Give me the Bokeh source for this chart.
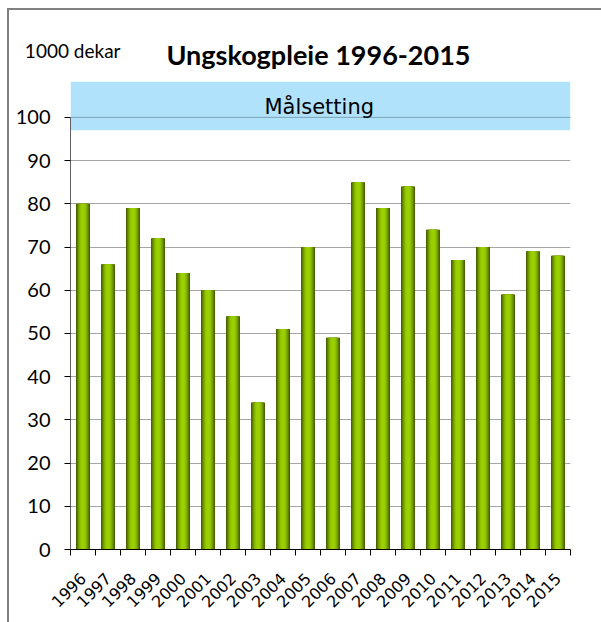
import math
from bokeh.plotting import figure
from bokeh.layouts import column
from bokeh.models import Range1d, FixedTicker, BoxAnnotation, Span, Label
from bokeh.embed import file_html
from bokeh.resources import INLINE

years = list(range(1996, 2016))
values = [80, 66, 79, 72, 64, 60, 54, 34, 51, 70, 49, 85, 79, 84, 74, 67, 70, 59, 69, 68]
y_ticks = [0, 10, 20, 30, 40, 50, 60, 70, 80, 90, 100]
goal_low = 97
goal_high = 108.3
goal_label = "Målsetting"
title_text = "Ungskogpleie 1996-2015"
unit_text = "1000 dekar"

W = 592
TOP_H = 71
MAIN_H = 541
FRAME_W = 500

# ---- header strip: title and unit text ----
head = figure(width=W, height=TOP_H, output_backend="svg", toolbar_location=None,
              x_range=Range1d(0, FRAME_W), y_range=Range1d(0, TOP_H),
              x_axis_location=None, y_axis_location="left",
              min_border_left=61, min_border_right=31, min_border_top=0, min_border_bottom=0)
head.outline_line_color = None
head.xgrid.grid_line_color = None
head.ygrid.grid_line_color = None
head.background_fill_color = "white"
head.border_fill_color = "white"
hy = head.yaxis[0]
hy.ticker = FixedTicker(ticks=[31], minor_ticks=[])
hy.major_label_overrides = {31: unit_text}
hy.axis_line_color = None
hy.major_tick_line_color = None
hy.minor_tick_line_color = None
hy.major_tick_out = 0
hy.major_tick_in = 0
hy.major_label_standoff = -50
hy.major_label_text_font = "Lato"
hy.major_label_text_font_size = "19px"
hy.major_label_text_color = "black"
head.add_layout(Label(x=248, y=27, text=title_text, text_align="center",
                      text_baseline="alphabetic", text_font="Lato", text_font_style="bold",
                      text_font_size="27px", text_color="black"))

# ---- main chart ----
x_start, x_end = years[0] - 0.5, years[-1] + 0.5

p = figure(width=W, height=MAIN_H, output_backend="svg", toolbar_location=None,
           x_range=Range1d(x_start, x_end), y_range=Range1d(0, goal_high),
           min_border_left=61, min_border_right=31, min_border_top=0, min_border_bottom=73)
p.outline_line_color = None
p.background_fill_color = "white"
p.border_fill_color = "white"

band = BoxAnnotation(bottom=goal_low, top=goal_high, fill_color="#b0e2fb", fill_alpha=1.0,
                     line_color=None, level="underlay")
p.add_layout(band)
p.add_layout(Span(location=100, dimension="width", line_color="#7aa3b8", line_width=1))

bar_w = 0.56
layers = [(1.0, "#4a6500"), (0.86, "#5c7e00"), (0.72, "#6f9800"), (0.58, "#82b000"),
          (0.42, "#91c300"), (0.26, "#9bd000")]
for frac, col in layers:
    p.vbar(x=years, top=values, bottom=0, width=bar_w * frac, fill_color=col, line_color=None)

xa = p.xaxis[0]
xa.ticker = FixedTicker(ticks=years, minor_ticks=[y - 0.5 for y in years] + [x_end])
xa.major_label_overrides = {y: str(y) for y in years}
xa.major_tick_line_color = None
xa.minor_tick_in = 0
xa.minor_tick_out = 6
xa.minor_tick_line_color = "black"
xa.axis_line_color = "black"
xa.major_label_orientation = math.pi / 4
xa.major_label_text_font = "DejaVu Sans"
xa.major_label_text_font_size = "16px"
xa.major_label_text_color = "black"
xa.major_label_standoff = 20

ya = p.yaxis[0]
ya.ticker = FixedTicker(ticks=y_ticks, minor_ticks=[])
ya.bounds = (0, 100)
ya.major_tick_in = 0
ya.major_tick_out = 6
ya.major_tick_line_color = "black"
ya.minor_tick_line_color = None
ya.axis_line_color = "#606060"
ya.major_label_text_font = "Lato"
ya.major_label_text_font_size = "20px"
ya.major_label_text_color = "black"
ya.major_label_standoff = 14

p.ygrid.ticker = FixedTicker(ticks=y_ticks)
p.ygrid.grid_line_color = "#a6a6a6"
p.ygrid.bounds = (0, 100)
p.xgrid.grid_line_color = None

p.add_layout(Label(x=(x_start + x_end) / 2 - 0.05, y=102.4, text=goal_label, text_align="center",
                   text_baseline="alphabetic", text_font="DejaVu Sans", text_font_size="21px",
                   text_color="black"))

layout = column(head, p, spacing=0)
layout.styles = {"border-top": "2px solid #808080", "border-left": "2px solid #808080",
                 "margin-left": "7px", "margin-top": "8px"}

open("out.html", "w").write(file_html(layout, INLINE))
